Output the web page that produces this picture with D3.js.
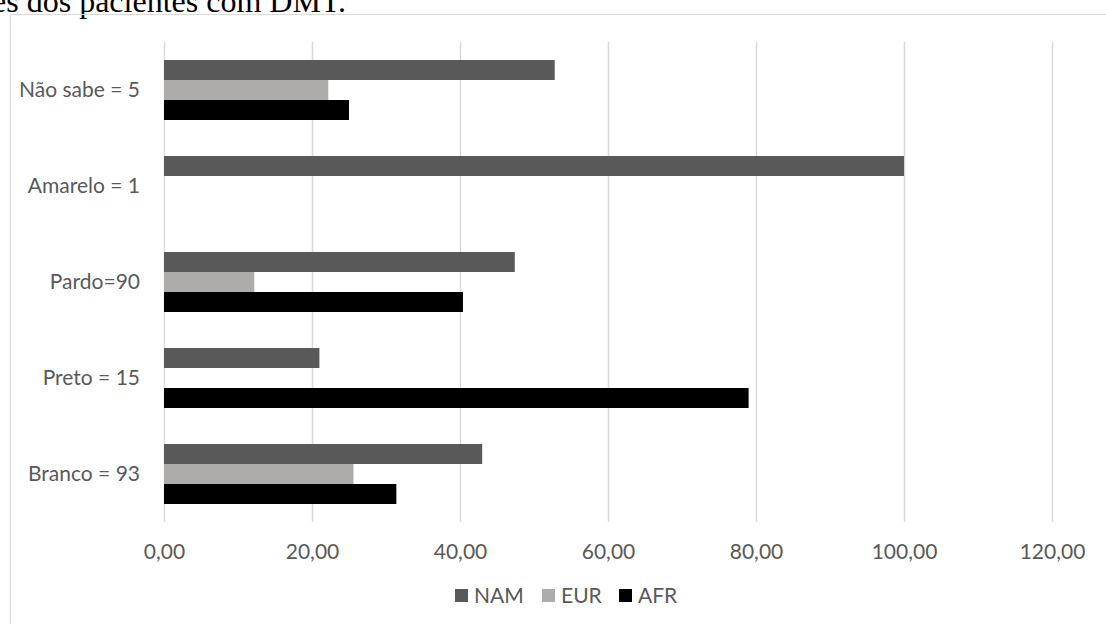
<!DOCTYPE html>
<html>
<head>
<meta charset="utf-8">
<script src="https://cdn.jsdelivr.net/npm/d3@7"></script>
<style>
  html, body { margin: 0; padding: 0; background: #fff; }
  svg { display: block; }
</style>
</head>
<body>
<svg id="chart" width="1106" height="624"></svg>
<script>
const categories = ["Não sabe = 5", "Amarelo = 1", "Pardo=90", "Preto = 15", "Branco = 93"];
const seriesNames = ["NAM", "EUR", "AFR"];
const NAM = [52.8, 100, 47.4, 21.0, 43.0];
const EUR = [22.2, 0, 12.2, 0, 25.6];
const AFR = [25.0, 0, 40.4, 79.0, 31.4];
const tickValues = [0, 20, 40, 60, 80, 100, 120];
const titleText = "es dos pacientes com DMT.";

const colors = { NAM: "#595959", EUR: "#AEABAB", AFR: "#000000" };
const seriesData = { NAM, EUR, AFR };
const font = "Lato, 'Open Sans', sans-serif";
const fs = 21;
const textColor = "#595959";

const svg = d3.select("#chart");

// clipped title fragment
svg.append("text")
  .attr("x", 346).attr("y", 12)
  .attr("text-anchor", "end")
  .attr("font-family", "'Liberation Serif', 'Times New Roman', serif")
  .attr("font-size", 32)
  .attr("fill", "#000")
  .text(titleText);

// chart border (left and top visible)
svg.append("path")
  .attr("d", "M10.5,624 L10.5,14.5 L1106,14.5")
  .attr("fill", "none")
  .attr("stroke", "#D9D9D9")
  .attr("stroke-width", 1.2);

const x = d3.scaleLinear().domain([0, 120]).range([164, 1052]);
const y0 = d3.scaleBand().domain(categories).range([42, 522]).paddingInner(0.375).paddingOuter(0.1875);
const y1 = d3.scaleBand().domain(seriesNames).range([0, y0.bandwidth()]);

// gridlines
svg.append("g")
  .selectAll("line")
  .data(tickValues)
  .join("line")
  .attr("x1", d => Math.round(x(d)) + 0.5)
  .attr("x2", d => Math.round(x(d)) + 0.5)
  .attr("y1", 42).attr("y2", 522)
  .attr("stroke", "#D9D9D9")
  .attr("stroke-width", 1.5);

// bars
const groups = svg.append("g")
  .selectAll("g")
  .data(categories)
  .join("g")
  .attr("transform", d => `translate(0,${y0(d)})`);

groups.selectAll("rect")
  .data((c, i) => seriesNames.map(s => ({ s, v: seriesData[s][i] })))
  .join("rect")
  .attr("x", x(0))
  .attr("y", d => y1(d.s))
  .attr("height", y1.bandwidth())
  .attr("width", d => x(d.v) - x(0))
  .attr("fill", d => colors[d.s]);

// x axis
const xAxis = d3.axisBottom(x)
  .tickValues(tickValues)
  .tickSize(0)
  .tickFormat(d => d3.format(".2f")(d).replace(".", ","));
const gx = svg.append("g").attr("transform", "translate(0,522)").call(xAxis);
gx.select(".domain").remove();
gx.selectAll("text")
  .attr("dy", "0.35em").attr("y", 30)
  .attr("font-family", font).attr("font-size", fs).attr("fill", textColor);

// y axis
const yAxis = d3.axisLeft(d3.scaleBand().domain(categories).range([42, 522])).tickSize(0);
const gy = svg.append("g").attr("transform", "translate(164,0)").call(yAxis);
gy.select(".domain").remove();
gy.selectAll("text")
  .attr("x", -24)
  .attr("font-family", font).attr("font-size", fs).attr("fill", textColor);

// legend
const legendItems = [
  { s: "NAM", x: 455 },
  { s: "EUR", x: 542 },
  { s: "AFR", x: 619 }
];
const lg = svg.append("g").selectAll("g").data(legendItems).join("g")
  .attr("transform", d => `translate(${d.x},589)`);
lg.append("rect").attr("width", 13).attr("height", 13).attr("fill", d => colors[d.s]);
lg.append("text")
  .attr("x", 19).attr("y", 6.5).attr("dy", "0.35em")
  .attr("font-family", font).attr("font-size", fs).attr("fill", textColor)
  .text(d => d.s);
</script>
</body>
</html>
